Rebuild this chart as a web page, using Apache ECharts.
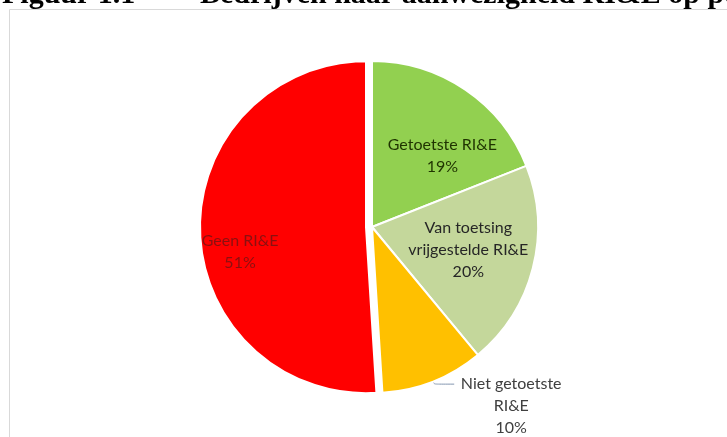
<!DOCTYPE html>
<html>
<head>
<meta charset="utf-8">
<script src="https://cdn.jsdelivr.net/npm/echarts@6/dist/echarts.min.js"></script>
<style>
  html, body { margin: 0; padding: 0; background: #fff; }
  #chart { width: 727px; height: 437px; }
</style>
</head>
<body>
<div id="chart"></div>
<script>
// categorieen en aandelen (%)
var categories = ['Getoetste RI&E', 'Van toetsing\nvrijgestelde RI&E', 'Niet getoetste\nRI&E', 'Geen RI&E'];
var shares = [19, 20, 10, 51];
var sliceColors = ['#92d050', '#c4d79b', '#ffc000', '#ff0000'];
var labelColors = ['#1f3300', '#262626', '#404040', '#8b1010'];

// label verschuivingen (zoals Excel ze plaatst)
var labelShift = [[22, 0], [13, 1], [0, 0], [-40, 22]];

var myChart = echarts.init(document.getElementById('chart'));

var pieData = categories.map(function (name, i) {
    var item = {
        name: name,
        value: shares[i],
        itemStyle: { color: sliceColors[i] },
        label: { color: labelColors[i] }
    };
    if (i === 2) {
        // buiten de taart met lijntje
        item.label = {
            position: 'outside',
            color: labelColors[i],
            padding: [44, 0, 0, 0],
            formatter: function (p) {
                var lines = p.name.split('\n').concat([p.value + '%']);
                return lines.map(function (l) { return '{c|' + l + '}'; }).join('\n');
            },
            rich: {
                c: { width: 104, align: 'center', fontFamily: 'Lato', fontSize: 16, lineHeight: 22, color: labelColors[i] }
            }
        };
        item.labelLine = { show: true, length: 3, length2: 20, smooth: 0.3, lineStyle: { color: '#8497b0', width: 1 } };
    }
    if (i === 3) {
        item.selected = true;
    }
    return item;
});

var option = {
    animation: false,
    graphic: [
        // figuurtitel (grotendeels buiten beeld)
        {
            type: 'text',
            left: 2,
            top: -20,
            style: {
                text: 'Figuur 1.1',
                font: 'bold 30px "Liberation Serif"',
                fill: '#000'
            }
        },
        {
            type: 'text',
            left: 200,
            top: -20,
            style: {
                text: 'Bedrijven naar aanwezigheid RI&E op peildatum',
                font: 'bold 30px "Liberation Serif"',
                fill: '#000'
            }
        },
        {
            type: 'rect',
            shape: { x: 9.5, y: 9.5, width: 800, height: 500 },
            style: { fill: 'none', stroke: '#d9d9d9', lineWidth: 1 }
        }
    ],
    series: [
        {
            type: 'pie',
            center: [372, 227],
            radius: 166,
            startAngle: 90,
            clockwise: true,
            selectedMode: 'single',
            selectedOffset: 6,
            emphasis: { disabled: true },
            select: { itemStyle: { borderColor: '#fff', borderWidth: 2 } },
            itemStyle: { borderColor: '#fff', borderWidth: 2 },
            label: {
                show: true,
                position: 'inside',
                fontFamily: 'Lato',
                fontSize: 16,
                lineHeight: 22,
                formatter: '{b}\n{c}%'
            },
            labelLine: { show: false },
            labelLayout: function (params) {
                var s = labelShift[params.dataIndex];
                if (params.dataIndex === 2) return {};
                return { dx: s[0], dy: s[1] };
            },
            data: pieData
        }
    ]
};
myChart.setOption(option);
</script>
</body>
</html>
